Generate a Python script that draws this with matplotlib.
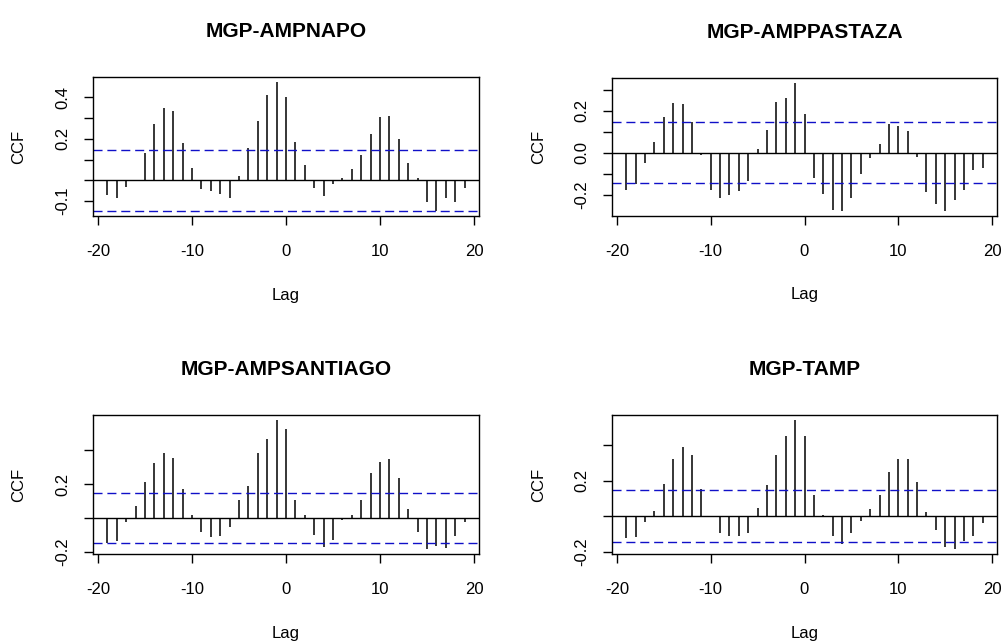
import numpy as np
import matplotlib
matplotlib.use("Agg")
import matplotlib.pyplot as plt

plt.rcParams['font.family'] = ['Liberation Sans', 'DejaVu Sans']
plt.rcParams['axes.unicode_minus'] = False

lags = list(range(-19, 20))

titles = ["MGP-AMPNAPO", "MGP-AMPPASTAZA", "MGP-AMPSANTIAGO", "MGP-TAMP"]

ccf_napo = [-0.070, -0.083, -0.032, 0.000, 0.130, 0.274, 0.351, 0.333, 0.178, 0.059,
            -0.043, -0.051, -0.064, -0.083, 0.021, 0.157, 0.288, 0.412, 0.474, 0.404,
            0.183, 0.072, -0.037, -0.077, -0.019, 0.010, 0.053, 0.123, 0.223, 0.306,
            0.312, 0.202, 0.085, 0.010, -0.103, -0.147, -0.083, -0.103, -0.037]

ccf_pastaza = [-0.176, -0.148, -0.050, 0.053, 0.173, 0.239, 0.231, 0.146, -0.013, -0.176,
               -0.215, -0.203, -0.184, -0.137, 0.020, 0.110, 0.243, 0.262, 0.333, 0.187,
               -0.121, -0.196, -0.272, -0.278, -0.215, -0.102, -0.025, 0.044, 0.137, 0.129,
               0.104, -0.019, -0.190, -0.246, -0.278, -0.228, -0.176, -0.082, -0.075]

ccf_santiago = [-0.147, -0.137, -0.025, 0.069, 0.212, 0.324, 0.386, 0.357, 0.173, 0.020,
                -0.082, -0.114, -0.104, -0.051, 0.108, 0.190, 0.386, 0.467, 0.578, 0.524,
                0.108, 0.020, -0.098, -0.171, -0.129, -0.012, 0.020, 0.108, 0.267, 0.329,
                0.347, 0.235, 0.053, -0.082, -0.182, -0.163, -0.176, -0.104, -0.025]

ccf_tamp = [-0.121, -0.114, -0.034, 0.032, 0.185, 0.321, 0.389, 0.344, 0.153, 0.000,
            -0.093, -0.108, -0.108, -0.093, 0.049, 0.176, 0.344, 0.452, 0.542, 0.452,
            0.123, 0.009, -0.108, -0.153, -0.093, -0.028, 0.041, 0.123, 0.252, 0.321,
            0.321, 0.193, 0.024, -0.079, -0.174, -0.183, -0.138, -0.108, -0.039]

ci = 0.147

# y ticks and which of them get a label (R drops overlapping labels)
yticks = [[-0.1, 0.0, 0.1, 0.2, 0.3, 0.4],
          [-0.2, -0.1, 0.0, 0.1, 0.2, 0.3],
          [-0.2, 0.0, 0.2, 0.4],
          [-0.2, 0.0, 0.2, 0.4]]
ylabels = [["-0.1", "", "", "0.2", "", "0.4"],
           ["-0.2", "", "0.0", "", "0.2", ""],
           ["-0.2", "", "0.2", ""],
           ["-0.2", "", "0.2", ""]]

series = [ccf_napo, ccf_pastaza, ccf_santiago, ccf_tamp]

fig = plt.figure(figsize=(10.02, 6.42), dpi=100)
W, H = 1002, 642
boxes = [(93, 77, 479, 216), (612, 78, 997, 216),
         (93, 415, 479, 554), (612, 415, 997, 554)]

for i in range(4):
    l, t, r, b = boxes[i]
    ax = fig.add_axes([l / W, (H - b) / H, (r - l) / W, (b - t) / H])
    y = np.array(series[i])
    ax.vlines(lags, 0, y, colors='black', lw=1.1)
    ax.axhline(0, color='black', lw=1)
    for c in (ci, -ci):
        ln = ax.axhline(c, color='#1010c8', lw=1)
        ln.set_dashes((6.5, 3.5))
    lo = min(y.min(), -ci)
    hi = max(y.max(), ci)
    pad = 0.04 * (hi - lo)
    ax.set_ylim(lo - pad, hi + pad)
    ax.set_xlim(-19 - 0.04 * 38, 19 + 0.04 * 38)
    ax.set_xticks([-20, -10, 0, 10, 20])
    ax.set_yticks(yticks[i])
    ax.set_yticklabels(ylabels[i], rotation=90, va='center')
    ax.tick_params(axis='both', direction='out', length=6.5, width=1, labelsize=12, color='black')
    ax.tick_params(axis='x', pad=14)
    ax.tick_params(axis='y', pad=10)
    for s in ax.spines.values():
        s.set_linewidth(1)
    ax.set_title(titles[i], fontsize=15, fontweight='bold', pad=28.5)
    ax.set_xlabel('Lag', fontsize=12)
    ax.set_ylabel('CCF', fontsize=12)
    ax.xaxis.set_label_coords(0.5, -0.515)
    ax.yaxis.set_label_coords(-0.172, 0.5)

fig.savefig('out.png', dpi=100)
